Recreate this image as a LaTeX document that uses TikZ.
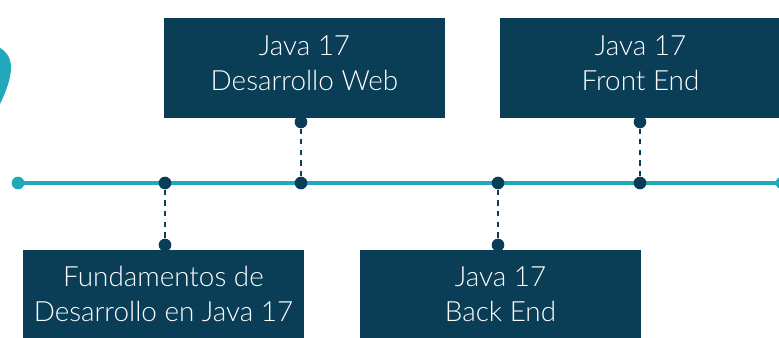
\documentclass[tikz,border=0pt]{standalone}
\usepackage{fontspec}
\setmainfont{Lato Light}
\usetikzlibrary{backgrounds}
\definecolor{navy}{HTML}{0A3D56}
\definecolor{teal}{HTML}{1FA9B9}
\newcommand{\lift}{\rule[-7.5pt]{0pt}{0pt}}

\begin{document}
\begin{tikzpicture}[x=0.75pt, y=-0.75pt]
	\tikzstyle{Course} = [rectangle, fill=navy, text=white, align=center, inner sep=0pt, minimum width=210.75pt, font=\fontsize{20.9}{26}\selectfont]
	\tikzstyle{Stop}   = [circle, fill=navy, minimum size=9.5pt, inner sep=0pt]
	\tikzstyle{Tip}    = [circle, fill=teal, minimum size=9.5pt, inner sep=0pt]
	\tikzstyle{Axis}   = [line width=2.4pt, teal]
	\tikzstyle{Link}   = [line width=0.8pt, navy, dash pattern=on 4pt off 4pt]

	\useasboundingbox (0,0) rectangle (779,338);

	\fill [teal] (0,48) .. controls (7,52) and (11,58) .. (11,68) .. controls (11,78) and (6,92) .. (0,104) -- cycle;

	\node (web)   at (304.5, 68) [Course, minimum height=75pt] {Java 17\\Desarrollo Web\lift};
	\node (front) at (640.5, 68) [Course, minimum height=75pt] {Java 17\\Front End\lift};
	\node (fund)  at (163.5, 294) [Course, minimum height=66pt] {Fundamentos de\\Desarrollo en Java 17};
	\node (back)  at (500.5, 294) [Course, minimum height=66pt] {Java 17\\Back End};

	\node (start) at (18, 183)  [Tip] {};
	\node (end)   at (782, 183) [Tip] {};
	\node (a1) at (165, 183) [Stop] {};
	\node (a2) at (301, 183) [Stop] {};
	\node (a3) at (498, 183) [Stop] {};
	\node (a4) at (640, 183) [Stop] {};
	\node (p1) at (165, 245) [Stop] {};
	\node (p2) at (301, 122) [Stop] {};
	\node (p3) at (498, 245) [Stop] {};
	\node (p4) at (640, 122) [Stop] {};

	\begin{scope}[on background layer]
		\draw [Axis] (start.center) -- (a1.center);
		\draw [Axis] (a1.center) -- (a2.center);
		\draw [Axis] (a2.center) -- (a3.center);
		\draw [Axis] (a3.center) -- (a4.center);
		\draw [Axis] (a4.center) -- (end.center);
		\draw [Link] (a1) -- (p1);
		\draw [Link] (a2) -- (p2);
		\draw [Link] (a3) -- (p3);
		\draw [Link] (a4) -- (p4);
	\end{scope}
\end{tikzpicture}
\end{document}
